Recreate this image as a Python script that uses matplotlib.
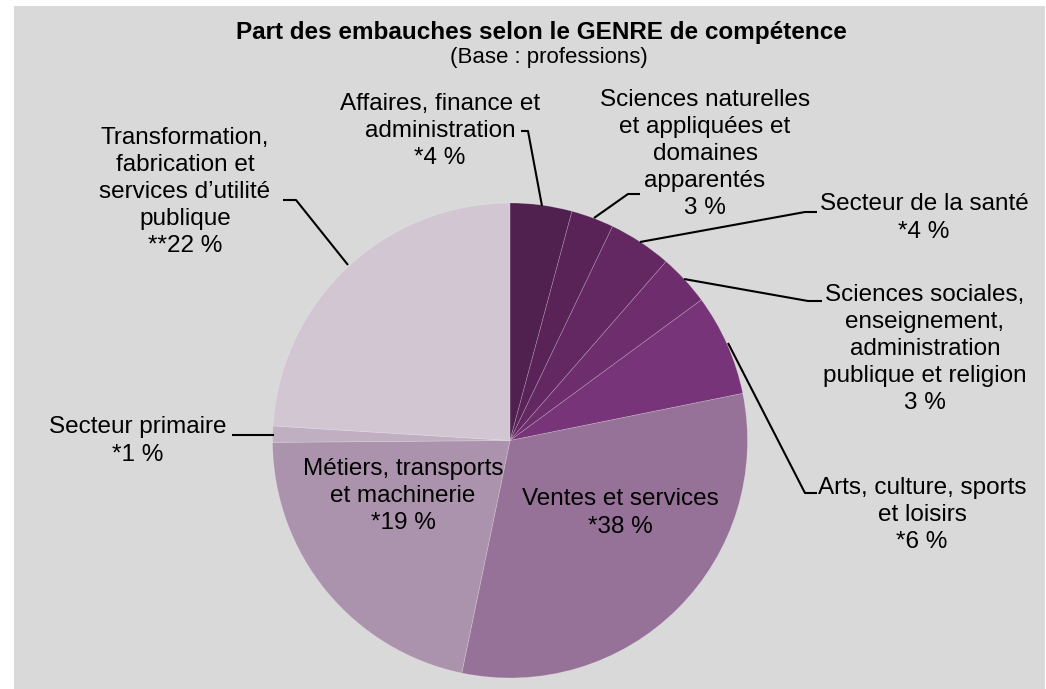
import matplotlib.pyplot as plt
from matplotlib.patches import Rectangle

plt.rcParams['font.family'] = ['Liberation Sans', 'DejaVu Sans']

# shares as drawn (clockwise from 12 o'clock)
categories = ["Affaires", "Sciences naturelles", "Santé", "Sciences sociales", "Arts",
              "Ventes", "Métiers", "Primaire", "Transformation"]
shares = [4.2, 2.9, 4.3, 3.5, 6.9, 31.4, 21.6, 1.1, 24.0]
colors = ["#50204F", "#5A2358", "#632862", "#6E2E6E", "#773478",
          "#977298", "#AC93AD", "#BFAFC0", "#D3C6D3"]
labels = [
    "Affaires, finance et\nadministration\n*4 %",
    "Sciences naturelles\net appliquées et\ndomaines\napparentés\n3 %",
    "Secteur de la santé\n*4 %",
    "Sciences sociales,\nenseignement,\nadministration\npublique et religion\n3 %",
    "Arts, culture, sports\net loisirs\n*6 %",
    "Ventes et services\n*38 %",
    "Métiers, transports\net machinerie\n*19 %",
    "Secteur primaire\n*1 %",
    "Transformation,\nfabrication et\nservices d’utilité\npublique\n**22 %",
]

W, H = 1046, 689
fig = plt.figure(figsize=(W / 100, H / 100), dpi=100)
fig.patch.set_facecolor("white")
ax = fig.add_axes([0, 0, 1, 1])

def py(y):
    # pixel row (from top) -> data y
    return H - y

cx, cy, r = 510, py(440.5), 237.5
ax.pie(shares, colors=colors, startangle=90, counterclock=False, center=(cx, cy), radius=r,
       wedgeprops=dict(edgecolor=(1, 1, 1, 0.25), linewidth=0.5), frame=True)
ax.set_xlim(0, W)
ax.set_ylim(0, H)
ax.set_aspect("equal")
ax.axis("off")
ax.add_patch(Rectangle((14, 0), W - 15, py(6), facecolor="#D9D9D9", edgecolor="none", zorder=0))

fs = 17.5
# label centres (pixels) and leader lines
label_pos = [(440, 131), (705, 154), (924, 218), (925, 349), (922, 515),
             (620, 513), (403, 496), (138, 441), (185, 192)]
leaders = [
    [(521, 131), (528, 131), (542, 206)],
    [(640, 194), (628, 194), (594, 218)],
    [(817, 212), (805, 212), (640, 242)],
    [(822, 301), (808, 301), (684, 279)],
    [(817, 493), (805, 493), (728, 343)],
    None,
    None,
    [(232, 435), (274, 435)],
    [(283, 200), (296, 200), (348, 265)],
]

for lab, (x, y), ld in zip(labels, label_pos, leaders):
    ax.text(x, py(y), lab, ha="center", va="center", fontsize=fs, color="black",
            linespacing=1.3, zorder=5)
    if ld:
        xs = [p[0] for p in ld]
        ys = [py(p[1]) for p in ld]
        ax.plot(xs, ys, color="black", lw=1.5, zorder=4, solid_capstyle="butt")

ax.text(541, py(33), "Part des embauches selon le GENRE de compétence", ha="center", va="center",
        fontsize=17.5, fontweight="bold")
ax.text(549, py(58), "(Base : professions)", ha="center", va="center", fontsize=16)

fig.savefig("out.png", dpi=100)
